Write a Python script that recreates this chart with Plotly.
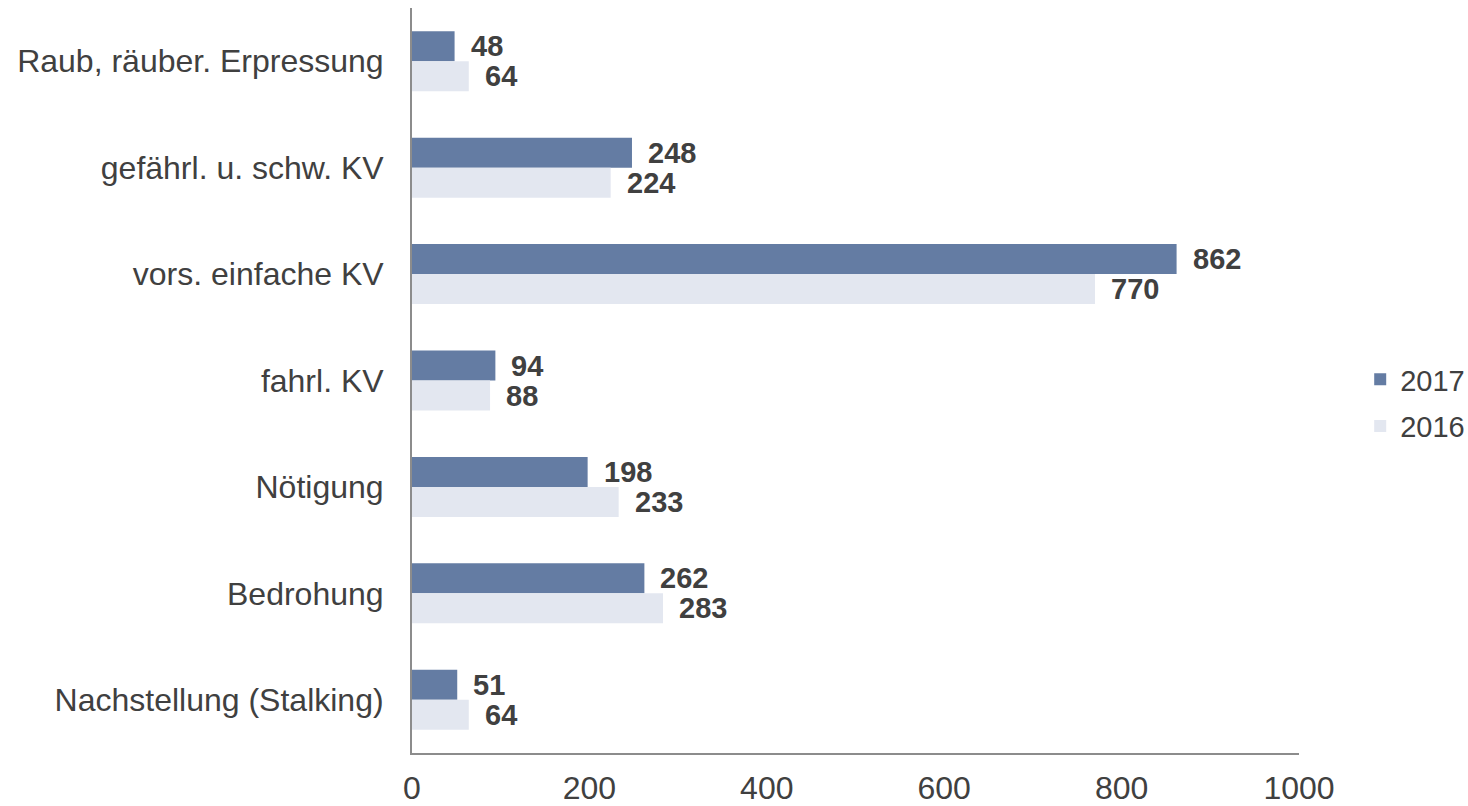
import plotly.graph_objects as go

categories = ["Raub, räuber. Erpressung", "gefährl. u. schw. KV", "vors. einfache KV",
              "fahrl. KV", "Nötigung", "Bedrohung", "Nachstellung (Stalking)"]
values_2017 = [48, 248, 862, 94, 198, 262, 51]
values_2016 = [64, 224, 770, 88, 233, 283, 64]
x_ticks = [0, 200, 400, 600, 800, 1000]

c2017 = "#647ca3"
c2016 = "#e3e7f0"
txt = "#404040"
font = "Liberation Sans, Arial, sans-serif"

fig = go.Figure()
fig.add_trace(go.Bar(name="2017", y=categories, x=values_2017, orientation="h",
                     legendgroup="a",
                     marker=dict(color=c2017, line=dict(width=0))))
fig.add_trace(go.Bar(name="2016", y=categories, x=values_2016, orientation="h",
                     legendgroup="b",
                     marker=dict(color=c2016, line=dict(width=0))))

annotations = []
for cat, v in zip(categories, values_2017):
    annotations.append(dict(x=v, y=cat, text=str(v), showarrow=False, xanchor="left",
                            xshift=14, yshift=15, xref="x", yref="y",
                            font=dict(family=font, size=29, color=txt, weight="bold")))
for cat, v in zip(categories, values_2016):
    annotations.append(dict(x=v, y=cat, text=str(v), showarrow=False, xanchor="left",
                            xshift=14, yshift=-15, xref="x", yref="y",
                            font=dict(family=font, size=29, color=txt, weight="bold")))

fig.update_layout(
    width=1468, height=806,
    margin=dict(l=412, r=169, t=8, b=53, autoexpand=False),
    paper_bgcolor="white", plot_bgcolor="white",
    barmode="group", bargap=0.436, bargroupgap=0,
    font=dict(family=font, color=txt),
    annotations=annotations,
    legend=dict(x=1.069, y=0.47, xanchor="left", yanchor="middle",
                font=dict(family=font, size=29, color=txt),
                itemwidth=30, tracegroupgap=6, traceorder="grouped"),
    xaxis=dict(range=[0, 1000], tickvals=x_ticks, showgrid=False, zeroline=False,
               showline=True, linecolor="#8c8c8c", linewidth=2, ticks="",
               automargin=False,
               tickfont=dict(family=font, size=32, color=txt), ticklabelstandoff=6),
    yaxis=dict(autorange="reversed", showgrid=False, zeroline=False,
               showline=True, linecolor="#8c8c8c", linewidth=2, ticks="",
               automargin=False,
               tickfont=dict(family=font, size=32, color=txt), ticklabelstandoff=20),
)

# remove the default 8px page margin so the figure fills the window exactly
fig.write_html("out.html", config={"displayModeBar": False},
               post_script="document.body.style.margin='0';document.body.style.overflow='hidden';")
